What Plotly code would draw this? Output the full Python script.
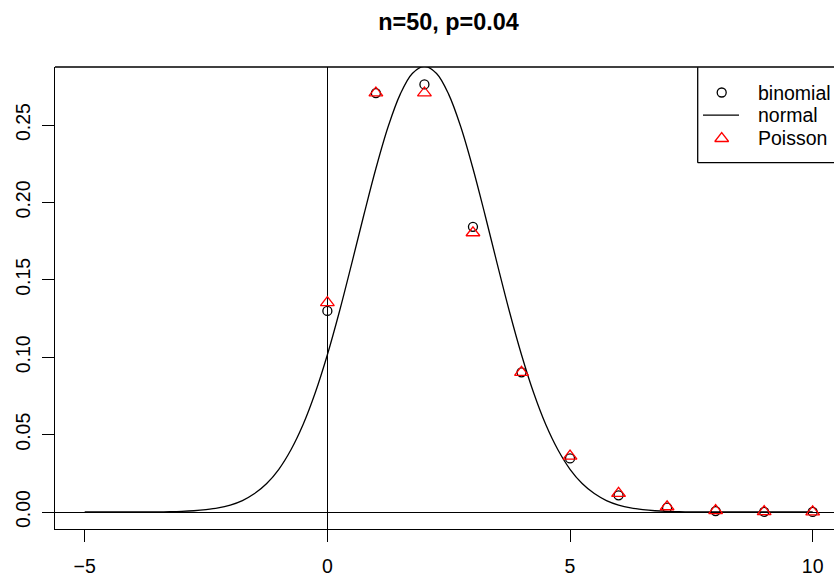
import plotly.graph_objects as go

# ---- data ----
k_vals = [0, 1, 2, 3, 4, 5, 6, 7, 8, 9, 10]
binomial = [0.1299, 0.2706, 0.2762, 0.1842, 0.0902, 0.0346, 0.0108, 0.0028, 0.0006, 0.0001, 0.00002]
poisson = [0.1353, 0.2707, 0.2707, 0.1804, 0.0902, 0.0361, 0.0120, 0.0034, 0.0009, 0.0002, 0.00004]

normal_x = [-5, -4.75, -4.5, -4.25, -4,
            -3.75, -3.5, -3.25, -3, -2.75, -2.5, -2.25, -2, -1.75, -1.5, -1.25, -1,
            -0.75, -0.5, -0.25, 0, 0.25, 0.5, 0.75, 1, 1.25, 1.5, 1.75,
            2,
            2.25, 2.5, 2.75, 3, 3.25, 3.5, 3.75, 4, 4.25, 4.5, 4.75, 5, 5.25, 5.5,
            5.75, 6, 6.25, 6.5, 6.75, 7, 7.25, 7.5, 7.75, 8,
            8.25, 8.5, 8.75, 9, 9.25, 9.5, 9.75, 10]
normal_y = [0, 0, 0, 0, 0,
            0.00005, 0.0001, 0.0002, 0.0004, 0.0008, 0.0015, 0.0026, 0.0045, 0.0074, 0.0119, 0.0184, 0.0276,
            0.0402, 0.0565, 0.0770, 0.1016, 0.1297, 0.1603, 0.1917, 0.2219, 0.2487, 0.2698, 0.2833,
            0.2879,
            0.2833, 0.2698, 0.2487, 0.2219, 0.1917, 0.1603, 0.1297, 0.1016, 0.0770, 0.0565, 0.0402, 0.0276, 0.0184, 0.0119,
            0.0074, 0.0045, 0.0026, 0.0015, 0.0008, 0.0004, 0.0002, 0.0001, 0.00005, 0.00002,
            0, 0, 0, 0, 0, 0, 0, 0]

x_ticks = [-5, 0, 5, 10]
x_ticklabels = ["\u22125", "0", "5", "10"]
y_ticks = [0.00, 0.05, 0.10, 0.15, 0.20, 0.25]
y_ticklabels = ["0.00", "0.05", "0.10", "0.15", "0.20", "0.25"]
legend_labels = ["binomial", "normal", "Poisson"]
title_text = "n=50, p=0.04"

FONT = "Liberation Sans, Arial, Helvetica, sans-serif"
W, H = 834, 577
L, R, T, B = 55, 0, 67, 48
LW = 1.3

fig = go.Figure()
fig.add_trace(go.Scatter(x=normal_x, y=normal_y, mode="lines", line=dict(color="black", width=LW, shape="spline"),
                         showlegend=False, hoverinfo="skip"))
fig.add_trace(go.Scatter(x=k_vals, y=binomial, mode="markers",
                         marker=dict(symbol="circle-open", size=9, color="black", line=dict(width=LW)),
                         showlegend=False))
fig.add_trace(go.Scatter(x=k_vals, y=poisson, mode="markers",
                         marker=dict(symbol="triangle-up-open", size=12, color="red", line=dict(width=LW)),
                         showlegend=False))

# legend keys on a pixel-coordinate overlay axis
fig.add_trace(go.Scatter(x=[721.7], y=[92.5], mode="markers", xaxis="x2", yaxis="y2",
                         marker=dict(symbol="circle-open", size=9, color="black", line=dict(width=LW)),
                         showlegend=False, hoverinfo="skip", cliponaxis=False))
fig.add_trace(go.Scatter(x=[703, 739], y=[115.2, 115.2], mode="lines", xaxis="x2", yaxis="y2",
                         line=dict(color="black", width=LW), showlegend=False, hoverinfo="skip"))
fig.add_trace(go.Scatter(x=[721.7], y=[138.5], mode="markers", xaxis="x2", yaxis="y2",
                         marker=dict(symbol="triangle-up-open", size=12, color="red", line=dict(width=LW)),
                         showlegend=False, hoverinfo="skip", cliponaxis=False))

for lab, yy in zip(legend_labels, [92.5, 115.2, 138.2]):
    fig.add_annotation(x=755.5, y=yy, xref="x2", yref="y2", text=lab, showarrow=False,
                       xanchor="left", yanchor="middle", font=dict(family=FONT, size=19.5, color="black"))

shapes = [
    dict(type="line", xref="paper", yref="paper", x0=0, x1=1, y0=1, y1=1, line=dict(color="black", width=LW)),
    dict(type="line", xref="x2", yref="y2", x0=697.7, x1=697.7, y0=67.3, y1=162.7, line=dict(color="black", width=LW)),
    dict(type="line", xref="x2", yref="y2", x0=697.7, x1=834, y0=162.7, y1=162.7, line=dict(color="black", width=LW)),
]

fig.update_layout(
    width=W, height=H, margin=dict(l=L, r=R, t=T, b=B, pad=0, autoexpand=False),
    paper_bgcolor="white", plot_bgcolor="white",
    font=dict(family=FONT, size=19.5, color="black"),
    title=dict(text="<b>" + title_text + "</b>", x=448.5 / W, xref="container", xanchor="center",
               y=1 - 22 / H, yref="container", yanchor="middle", font=dict(family=FONT, size=23.4, color="black")),
    xaxis=dict(range=[-5.612, 10.439], tickvals=x_ticks, ticktext=x_ticklabels, ticks="outside", ticklen=12,
               tickwidth=LW, tickcolor="black", showline=True, linecolor="black", linewidth=LW, automargin=False,
               showgrid=False, zeroline=True, zerolinecolor="black", zerolinewidth=LW, ticklabelstandoff=7),
    yaxis=dict(range=[-0.01098, 0.28747], tickvals=y_ticks, ticktext=y_ticklabels, ticks="outside", ticklen=12,
               tickwidth=LW, tickcolor="black", showline=True, linecolor="black", linewidth=LW, automargin=False,
               showgrid=False, zeroline=True, zerolinecolor="black", zerolinewidth=LW, tickangle=-90,
               ticklabelstandoff=4),
    xaxis2=dict(range=[L, W], overlaying="x", visible=False, fixedrange=True),
    yaxis2=dict(range=[H - B, T], overlaying="y", visible=False, fixedrange=True),
    shapes=shapes,
    showlegend=False,
)

fig.write_html("out.html")
